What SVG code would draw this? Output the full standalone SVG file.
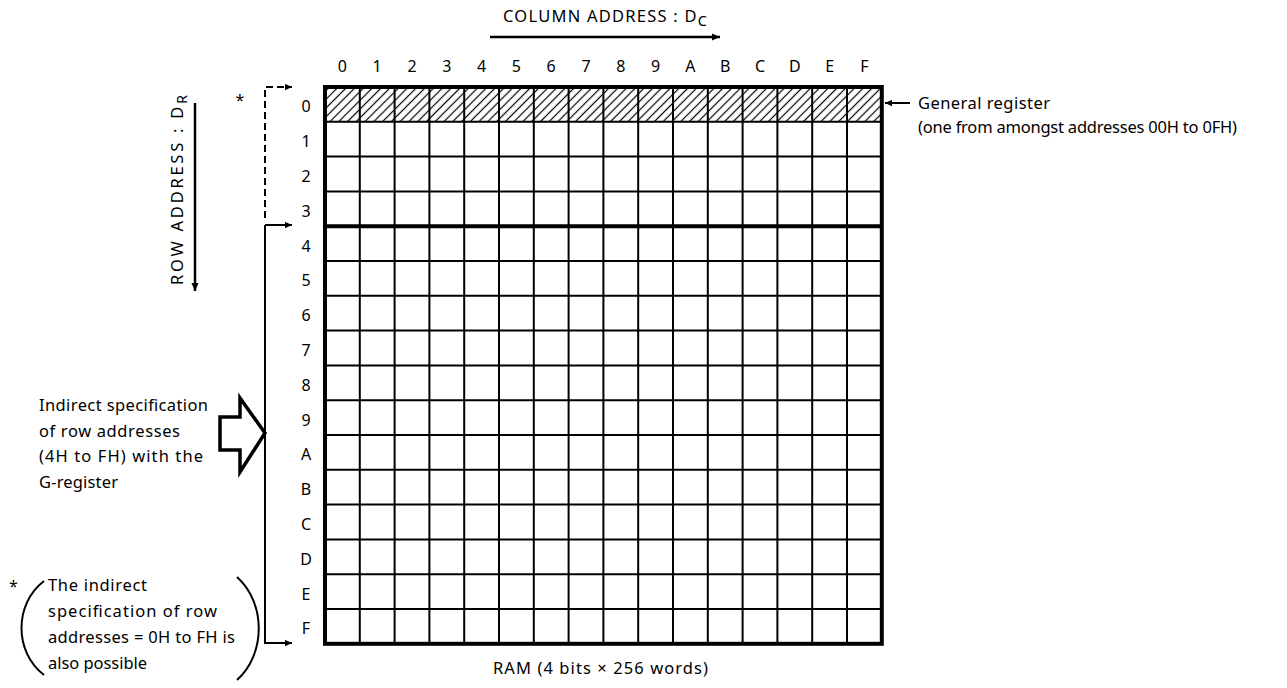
<svg xmlns="http://www.w3.org/2000/svg" width="1287" height="688" viewBox="0 0 1287 688">
<style>
text{font-family:"Noto Sans","DejaVu Sans",sans-serif;font-size:16.5px;fill:#000}
.lbl{text-anchor:middle;font-size:16px}
.grid{stroke:#000;stroke-width:2;fill:none}
.thick{stroke:#000;stroke-width:4;fill:none}
.ln{stroke:#000;stroke-width:2;fill:none}
.axis{stroke:#000;stroke-width:2.5;fill:none}
</style>
<defs>
<pattern id="hatch" patternUnits="userSpaceOnUse" width="6.2" height="6.2" patternTransform="rotate(45)">
<line x1="3.1" y1="0" x2="3.1" y2="6.2" stroke="#000" stroke-width="1.2"/>
</pattern>
<marker id="ah" viewBox="0 0 10 10" refX="10" refY="5" markerWidth="9" markerHeight="7" markerUnits="userSpaceOnUse" orient="auto">
<path d="M0,0.5 L10,5 L0,9.5 z" fill="#000"/>
</marker>
<marker id="ahBig" viewBox="0 0 10 10" refX="10" refY="5" markerWidth="11" markerHeight="8" markerUnits="userSpaceOnUse" orient="auto">
<path d="M0,0.5 L10,5 L0,9.5 z" fill="#000"/>
</marker>
</defs>
<rect x="0" y="0" width="1287" height="688" fill="#fff"/>

<g id="ram-grid">
<rect x="325" y="87" width="556.8" height="34.8" fill="url(#hatch)"/>
<g class="grid">
<path d="M359.8 87V643.8M394.6 87V643.8M429.4 87V643.8M464.2 87V643.8M499 87V643.8M533.8 87V643.8M568.6 87V643.8M603.4 87V643.8M638.2 87V643.8M673 87V643.8M707.8 87V643.8M742.6 87V643.8M777.4 87V643.8M812.2 87V643.8M847 87V643.8"/>
<path d="M325 121.8H881.8M325 156.6H881.8M325 191.4H881.8M325 261H881.8M325 295.8H881.8M325 330.6H881.8M325 365.4H881.8M325 400.2H881.8M325 435H881.8M325 469.8H881.8M325 504.6H881.8M325 539.4H881.8M325 574.2H881.8M325 609H881.8"/>
</g>
<path class="thick" d="M325 226.2H881.8"/>
<rect class="thick" x="325" y="87" width="556.8" height="556.8"/>
</g>

<g id="column-labels">
<text class="lbl" x="342.4" y="72">0</text>
<text class="lbl" x="377.2" y="72">1</text>
<text class="lbl" x="412" y="72">2</text>
<text class="lbl" x="446.8" y="72">3</text>
<text class="lbl" x="481.6" y="72">4</text>
<text class="lbl" x="516.4" y="72">5</text>
<text class="lbl" x="551.2" y="72">6</text>
<text class="lbl" x="586" y="72">7</text>
<text class="lbl" x="620.8" y="72">8</text>
<text class="lbl" x="655.6" y="72">9</text>
<text class="lbl" x="690.4" y="72">A</text>
<text class="lbl" x="725.2" y="72">B</text>
<text class="lbl" x="760" y="72">C</text>
<text class="lbl" x="794.8" y="72">D</text>
<text class="lbl" x="829.6" y="72">E</text>
<text class="lbl" x="864.4" y="72">F</text>
</g>

<g id="row-labels">
<text class="lbl" x="306" y="112.4">0</text>
<text class="lbl" x="306" y="147.2">1</text>
<text class="lbl" x="306" y="182">2</text>
<text class="lbl" x="306" y="216.8">3</text>
<text class="lbl" x="306" y="251.6">4</text>
<text class="lbl" x="306" y="286.4">5</text>
<text class="lbl" x="306" y="321.2">6</text>
<text class="lbl" x="306" y="356">7</text>
<text class="lbl" x="306" y="390.8">8</text>
<text class="lbl" x="306" y="425.6">9</text>
<text class="lbl" x="306" y="460.4">A</text>
<text class="lbl" x="306" y="495.2">B</text>
<text class="lbl" x="306" y="530">C</text>
<text class="lbl" x="306" y="564.8">D</text>
<text class="lbl" x="306" y="599.6">E</text>
<text class="lbl" x="306" y="634.4">F</text>
</g>

<g id="column-address">
<text x="503" y="22" textLength="204" lengthAdjust="spacing">COLUMN ADDRESS : D<tspan dy="4" font-size="14.5">C</tspan></text>
</g>

<g id="row-address">
<text transform="translate(183,285) rotate(-90)" x="0" y="0" textLength="190" lengthAdjust="spacing">ROW ADDRESS : D<tspan dy="4" font-size="14.5">R</tspan></text>
</g>

<g id="general-register">
<text x="918" y="109" textLength="132" lengthAdjust="spacing">General register</text>
<text x="918" y="133" textLength="319" lengthAdjust="spacing">(one from amongst addresses 00H to 0FH)</text>
</g>

<g id="indirect-spec">
<text x="39" y="411" textLength="169" lengthAdjust="spacing">Indirect specification</text>
<text x="39" y="437" textLength="141" lengthAdjust="spacing">of row addresses</text>
<text x="39" y="462" textLength="164" lengthAdjust="spacing">(4H to FH) with the</text>
<text x="39" y="488" textLength="79" lengthAdjust="spacing">G-register</text>
<polygon points="220,417 240,417 240,398 265,433 240,472 240,450 220,450" fill="#fff" stroke="#000" stroke-width="3.5" stroke-linejoin="miter"/>
</g>

<g id="footnote">
<text x="240" y="106" class="lbl">*</text>
<text x="13.5" y="592" class="lbl">*</text>
<path class="ln" d="M44 581C14 604 14 652 44 675"/>
<path class="ln" d="M237 577C266 603 266 654 237 680"/>
<text x="48" y="591" textLength="99" lengthAdjust="spacing">The indirect</text>
<text x="48" y="617" textLength="169" lengthAdjust="spacing">specification of row</text>
<text x="48" y="643" textLength="187" lengthAdjust="spacing">addresses = 0H to FH is</text>
<text x="48" y="669" textLength="99" lengthAdjust="spacing">also possible</text>
</g>

<g id="ram-caption">
<text x="493" y="674" textLength="215" lengthAdjust="spacing">RAM (4 bits × 256 words)</text>
</g>

<g id="connectors">
<path class="axis" d="M490 37H720" marker-end="url(#ahBig)"/>
<path class="axis" d="M195 103V291" marker-end="url(#ahBig)"/>
<path class="ln" d="M265 218V87H292" stroke-dasharray="7 4" marker-end="url(#ah)"/>
<path class="ln" d="M265 225H292" marker-end="url(#ah)"/>
<path class="ln" d="M292 643H265V225"/>
<path class="ln" d="M265 643H292" marker-end="url(#ah)"/>
<path class="ln" d="M910 103H885" marker-end="url(#ah)"/>
</g>
</svg>
